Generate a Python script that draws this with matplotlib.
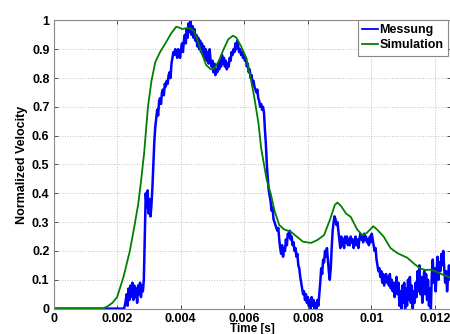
import numpy as np
from matplotlib import pyplot as plt

plt.rcParams['font.family'] = ['Liberation Sans', 'DejaVu Sans']
plt.rcParams['font.weight'] = 'bold'

# measurement (time in ms, normalized velocity)
mess_t = [0.0, 2.22, 2.26, 2.30, 2.33, 2.36, 2.39, 2.42, 2.45, 2.48, 2.51, 2.54, 2.57, 2.60, 2.63, 2.66,
          2.69, 2.72, 2.75, 2.78, 2.81, 2.84, 2.87, 2.90, 2.93, 2.96, 2.99, 3.02, 3.05, 3.08, 3.11, 3.14,
          3.17, 3.20, 3.23, 3.26, 3.29, 3.32, 3.35, 3.38, 3.41, 3.44, 3.47, 3.50, 3.53, 3.56, 3.59, 3.62,
          3.65, 3.68, 3.71, 3.74, 3.77, 3.80, 3.83, 3.86, 3.89, 3.92, 3.95, 3.98, 4.01, 4.04, 4.07, 4.10,
          4.13, 4.16, 4.19, 4.22, 4.25, 4.28, 4.31, 4.34, 4.37, 4.40, 4.43, 4.46, 4.49, 4.52, 4.55, 4.58,
          4.61, 4.64, 4.67, 4.70, 4.73, 4.76, 4.79, 4.82, 4.85, 4.88, 4.91, 4.94, 4.97, 5.00, 5.03, 5.06,
          5.09, 5.12, 5.15, 5.18, 5.21, 5.24, 5.27, 5.30, 5.33, 5.36, 5.39, 5.42, 5.45, 5.48, 5.51, 5.54,
          5.57, 5.60, 5.63, 5.66, 5.69, 5.72, 5.75, 5.78, 5.81, 5.84, 5.87, 5.90, 5.93, 5.96, 5.99, 6.02,
          6.05, 6.08, 6.11, 6.14, 6.17, 6.20, 6.23, 6.26, 6.29, 6.32, 6.35, 6.38, 6.41, 6.44, 6.47, 6.50,
          6.53, 6.56, 6.59, 6.62, 6.65, 6.68, 6.71, 6.74, 6.77, 6.80, 6.83, 6.86, 6.89, 6.92, 6.95, 6.98,
          7.01, 7.04, 7.07, 7.10, 7.13, 7.16, 7.19, 7.22, 7.25, 7.28, 7.31, 7.34, 7.37, 7.40, 7.43, 7.46,
          7.49, 7.52, 7.55, 7.58, 7.61, 7.64, 7.67, 7.70, 7.73, 7.76, 7.79, 7.82, 7.85, 7.88, 7.91, 7.94,
          7.97, 8.00, 8.03, 8.06, 8.09, 8.12, 8.15, 8.18, 8.21, 8.24, 8.27, 8.30, 8.33, 8.36, 8.39, 8.42,
          8.45, 8.48, 8.51, 8.54, 8.57, 8.60, 8.63, 8.66, 8.69, 8.72, 8.75, 8.78, 8.81, 8.84, 8.87, 8.90,
          8.93, 8.96, 8.99, 9.02, 9.05, 9.08, 9.11, 9.14, 9.17, 9.20, 9.23, 9.26, 9.29, 9.32, 9.35, 9.38,
          9.41, 9.44, 9.47, 9.50, 9.53, 9.56, 9.59, 9.62, 9.65, 9.68, 9.71, 9.74, 9.77, 9.80, 9.83, 9.86,
          9.89, 9.92, 9.95, 9.98, 10.01, 10.04, 10.07, 10.10, 10.13, 10.16, 10.19, 10.22, 10.25, 10.28,
          10.31, 10.34, 10.37, 10.40, 10.43, 10.46, 10.49, 10.52, 10.55, 10.58, 10.61, 10.64, 10.67,
          10.70, 10.73, 10.76, 10.79, 10.82, 10.85, 10.88, 10.91, 10.94, 10.97, 11.00, 11.03, 11.06,
          11.09, 11.12, 11.15, 11.18, 11.21, 11.24, 11.27, 11.30, 11.33, 11.36, 11.39, 11.42, 11.45,
          11.48, 11.51, 11.54, 11.57, 11.60, 11.63, 11.66, 11.69, 11.72, 11.75, 11.78, 11.81, 11.84,
          11.87, 11.90, 11.93, 11.96, 11.99, 12.02, 12.05, 12.08, 12.11, 12.14, 12.17, 12.20, 12.23,
          12.26, 12.29, 12.32, 12.35, 12.38, 12.41, 12.44, 12.47, 12.50]
mess_v = [0, 0, 0.02, 0.05, 0.01, 0.07, 0.03, 0.08, 0.04, 0.09, 0.03, 0.08, 0.04, 0.07, 0.02, 0.08,
          0.05, 0.09, 0.04, 0.08, 0.06, 0.10, 0.25, 0.40, 0.35, 0.41, 0.33, 0.38, 0.32, 0.36, 0.42, 0.50,
          0.58, 0.63, 0.66, 0.69, 0.67, 0.72, 0.73, 0.71, 0.75, 0.76, 0.74, 0.78, 0.77, 0.79, 0.78, 0.81,
          0.82, 0.80, 0.85, 0.87, 0.89, 0.88, 0.90, 0.89, 0.87, 0.90, 0.88, 0.87, 0.90, 0.92, 0.89, 0.93,
          0.95, 0.92, 0.97, 0.94, 0.99, 0.96, 1.00, 0.95, 0.98, 0.94, 0.97, 0.93, 0.95, 0.91, 0.94, 0.90,
          0.93, 0.89, 0.92, 0.88, 0.91, 0.87, 0.90, 0.86, 0.89, 0.85, 0.90, 0.86, 0.84, 0.86, 0.82, 0.85,
          0.81, 0.83, 0.82, 0.85, 0.83, 0.86, 0.84, 0.88, 0.85, 0.87, 0.84, 0.86, 0.83, 0.85, 0.84, 0.87,
          0.86, 0.89, 0.88, 0.90, 0.89, 0.92, 0.90, 0.93, 0.91, 0.89, 0.90, 0.88, 0.89, 0.87, 0.88, 0.86,
          0.87, 0.84, 0.85, 0.82, 0.83, 0.80, 0.81, 0.78, 0.79, 0.77, 0.76, 0.75, 0.76, 0.73, 0.72, 0.70,
          0.71, 0.69, 0.70, 0.68, 0.62, 0.57, 0.50, 0.45, 0.41, 0.39, 0.37, 0.34, 0.35, 0.31, 0.30, 0.29,
          0.28, 0.27, 0.28, 0.24, 0.21, 0.19, 0.22, 0.18, 0.21, 0.20, 0.24, 0.22, 0.26, 0.25, 0.27, 0.24,
          0.25, 0.22, 0.23, 0.20, 0.21, 0.18, 0.19, 0.15, 0.14, 0.11, 0.09, 0.07, 0.05, 0.06, 0.03, 0.05,
          0.02, 0.04, 0.01, 0.03, 0.00, 0.04, 0.01, 0.03, 0.00, 0.02, 0.00, 0.03, 0.01, 0.05, 0.09, 0.14,
          0.12, 0.17, 0.16, 0.20, 0.18, 0.21, 0.17, 0.13, 0.10, 0.14, 0.21, 0.27, 0.30, 0.32, 0.31, 0.29,
          0.30, 0.27, 0.24, 0.21, 0.25, 0.22, 0.24, 0.21, 0.25, 0.23, 0.25, 0.22, 0.24, 0.22, 0.25, 0.23,
          0.24, 0.21, 0.23, 0.25, 0.22, 0.24, 0.21, 0.24, 0.26, 0.24, 0.25, 0.23, 0.26, 0.24, 0.25, 0.23,
          0.24, 0.22, 0.25, 0.23, 0.26, 0.24, 0.22, 0.20, 0.21, 0.17, 0.15, 0.13, 0.14, 0.11,
          0.13, 0.09, 0.12, 0.08, 0.10, 0.12, 0.09, 0.11, 0.08, 0.12, 0.07, 0.10, 0.06,
          0.09, 0.04, 0.07, 0.11, 0.05, 0.09, 0.01, 0.06, 0.00, 0.08, 0.02, 0.09, 0.00,
          0.07, 0.01, 0.10, 0.03, 0.11, 0.02, 0.08, 0.00, 0.06, 0.02, 0.09, 0.04, 0.13,
          0.06, 0.15, 0.05, 0.11, 0.02, 0.09, 0.13, 0.05, 0.12, 0.03, 0.10, 0.01, 0.07,
          0.00, 0.12, 0.17, 0.09, 0.14, 0.06, 0.12, 0.18, 0.10, 0.16, 0.13, 0.19, 0.15,
          0.20, 0.14, 0.09, 0.13, 0.06, 0.11, 0.15, 0.10, 0.14]

# simulation (time in ms)
sim_t = [0, 1.55, 1.7, 1.85, 2.0, 2.2, 2.4, 2.55, 2.66, 2.75, 2.85, 2.97, 3.08, 3.2, 3.35, 3.55,
         3.7, 3.86, 3.95, 4.05, 4.18, 4.3, 4.4, 4.5, 4.65, 4.8, 4.95, 5.06, 5.2, 5.35, 5.5, 5.65,
         5.75, 5.9, 6.06, 6.2, 6.32, 6.45, 6.53, 6.7, 6.84, 6.95, 7.1, 7.25, 7.47, 7.65, 7.85, 8.1,
         8.3, 8.51, 8.7, 8.85, 8.93, 9.05, 9.2, 9.35, 9.55, 9.71, 9.85, 10.06, 10.2, 10.39, 10.6,
         10.81, 11.0, 11.12, 11.35, 11.54, 11.7, 11.86, 12.0, 12.2, 12.43, 12.5]
sim_v = [0, 0, 0.008, 0.02, 0.04, 0.11, 0.20, 0.29, 0.36, 0.44, 0.54, 0.70, 0.79, 0.855, 0.89, 0.926,
         0.955, 0.978, 0.975, 0.97, 0.973, 0.972, 0.965, 0.94, 0.89, 0.845, 0.83, 0.832, 0.86, 0.90, 0.935, 0.947,
         0.94, 0.91, 0.87, 0.80, 0.73, 0.64, 0.557, 0.45, 0.395, 0.34, 0.29, 0.275, 0.266, 0.25, 0.232, 0.228,
         0.238, 0.255, 0.31, 0.36, 0.368, 0.355, 0.33, 0.318, 0.275, 0.255, 0.262, 0.286, 0.272, 0.249, 0.21,
         0.193, 0.183, 0.177, 0.155, 0.139, 0.134, 0.135, 0.13, 0.12, 0.11, 0.107]

xticks = [0, 0.002, 0.004, 0.006, 0.008, 0.01, 0.012]
xticklabels = ["0", "0.002", "0.004", "0.006", "0.008", "0.01", "0.012"]
yticks = [0, 0.1, 0.2, 0.3, 0.4, 0.5, 0.6, 0.7, 0.8, 0.9, 1]
yticklabels = ["0", "0.1", "0.2", "0.3", "0.4", "0.5", "0.6", "0.7", "0.8", "0.9", "1"]

fig = plt.figure(figsize=(4.5, 3.34), dpi=100)
ax = fig.add_axes([0.119, 0.076, 0.883, 0.863])

ax.plot(np.array(mess_t) * 1e-3, mess_v, color=(0, 0, 1), lw=1.8, label="Messung")
ax.plot(np.array(sim_t) * 1e-3, sim_v, color=(0, 0.5, 0), lw=1.3, label="Simulation")

ax.set_xlim(0, 0.0125)
ax.set_ylim(0, 1)
ax.set_xticks(xticks)
ax.set_xticklabels(xticklabels)
ax.set_yticks(yticks)
ax.set_yticklabels(yticklabels)
ax.tick_params(direction='in', length=3, width=0.6, colors='#333333', labelcolor='black',
               labelsize=9, top=True, right=True, pad=3)
ax.grid(True, linestyle=':', color='#c0c0c0', lw=0.7)
for s in ax.spines.values():
    s.set_color('#888888')
    s.set_linewidth(0.8)

ax.set_xlabel("Time [s]", fontsize=8.5, fontweight='bold', labelpad=-1)
ax.set_ylabel("Normalized Velocity", fontsize=9, fontweight='bold', labelpad=3)

leg = ax.legend(loc='upper right', bbox_to_anchor=(448 / 450, 1 - 20 / 334),
                bbox_transform=fig.transFigure, fontsize=9, frameon=True,
                fancybox=False, borderpad=0.35, handlelength=1.3, handletextpad=0.1,
                labelspacing=0.25, borderaxespad=0)
leg.get_frame().set_edgecolor('#888888')
leg.get_frame().set_linewidth(0.8)
leg.get_frame().set_alpha(1)
for ln in leg.get_lines():
    ln.set_linewidth(1.3)

plt.savefig("out.png", dpi=100)
